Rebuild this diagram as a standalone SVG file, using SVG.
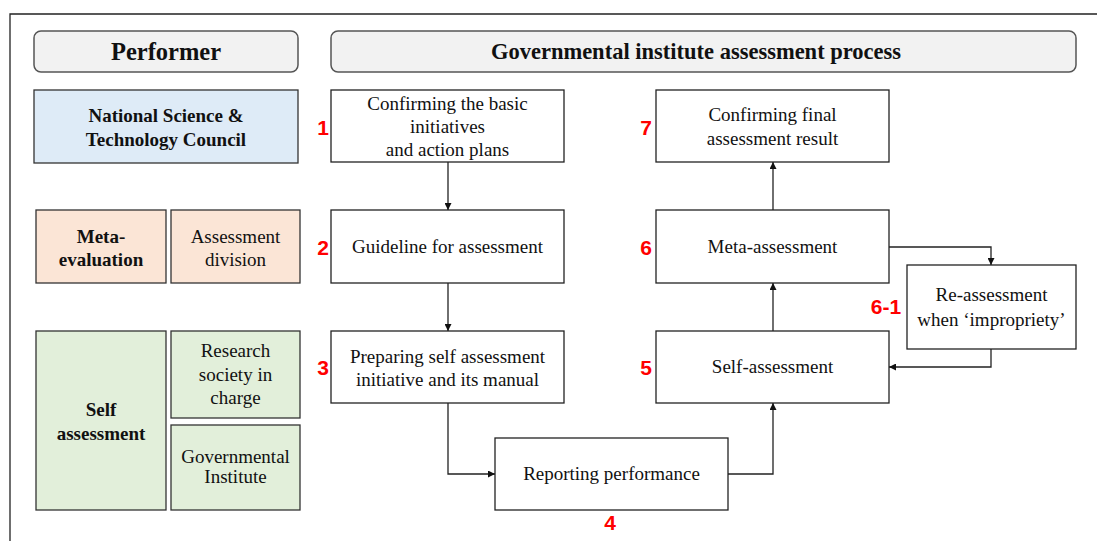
<svg xmlns="http://www.w3.org/2000/svg" width="1097" height="541" viewBox="0 0 1097 541">
<style>
.t{font-family:"Liberation Serif","Times New Roman","DejaVu Serif",serif;font-size:19px;fill:#111;text-anchor:middle}
.b{font-weight:bold}
.h{font-family:"Liberation Serif","Times New Roman","DejaVu Serif",serif;font-weight:bold;fill:#111;text-anchor:middle}
.n{font-family:"Liberation Sans",Arial,sans-serif;font-weight:bold;font-size:21px;fill:#ff0000;text-anchor:middle}
.box{fill:#fff;stroke:#222;stroke-width:1.3}
.hdr{fill:#f2f2f2;stroke:#555;stroke-width:1.5}
.blue{fill:#deebf7;stroke:#333;stroke-width:1.3}
.peach{fill:#fbe5d6;stroke:#333;stroke-width:1.3}
.green{fill:#e2efda;stroke:#333;stroke-width:1.3}
.c{fill:none;stroke:#222;stroke-width:1.3;marker-end:url(#ah)}
</style>
<defs>
<marker id="ah" viewBox="0 0 10 10" refX="10" refY="5" markerWidth="7" markerHeight="7" markerUnits="userSpaceOnUse" orient="auto">
<path d="M0,0 L10,5 L0,10 z" fill="#111"/>
</marker>
</defs>
<rect width="1097" height="541" fill="#fff"/>
<path d="M10,541 V14 H1097" fill="none" stroke="#222" stroke-width="1.3"/>

<g id="performer-header">
<rect class="hdr" x="34" y="31" width="264" height="41" rx="7"/>
<text class="h" x="166" y="60" font-size="24.5">Performer</text>
</g>
<g id="process-header">
<rect class="hdr" x="331" y="31" width="745" height="41" rx="7"/>
<text class="h" x="696" y="59" font-size="22.5">Governmental institute assessment process</text>
</g>

<g id="nstc">
<rect class="blue" x="34" y="90" width="264" height="73"/>
<text class="t b" x="166" y="122">National Science &amp;</text>
<text class="t b" x="166" y="146">Technology Council</text>
</g>
<g id="meta-evaluation">
<rect class="peach" x="36" y="210" width="130" height="73"/>
<text class="t b" x="101" y="243">Meta-</text>
<text class="t b" x="101" y="266">evaluation</text>
</g>
<g id="assessment-division">
<rect class="peach" x="171" y="210" width="129" height="73"/>
<text class="t" x="235.5" y="243">Assessment</text>
<text class="t" x="235.5" y="266">division</text>
</g>
<g id="self-assessment-performer">
<rect class="green" x="36" y="331" width="130" height="179"/>
<text class="t b" x="101" y="416">Self</text>
<text class="t b" x="101" y="440">assessment</text>
</g>
<g id="research-society">
<rect class="green" x="171" y="331" width="129" height="87"/>
<text class="t" x="235.5" y="357">Research</text>
<text class="t" x="235.5" y="381">society in</text>
<text class="t" x="235.5" y="404">charge</text>
</g>
<g id="governmental-institute">
<rect class="green" x="171" y="425" width="129" height="85"/>
<text class="t" x="235.5" y="463" font-size="16">Governmental</text>
<text class="t" x="235.5" y="483" font-size="16">Institute</text>
</g>

<g id="step1">
<rect class="box" x="331" y="90" width="233" height="72"/>
<text class="t" x="447.5" y="110">Confirming the basic</text>
<text class="t" x="447.5" y="133">initiatives</text>
<text class="t" x="447.5" y="156">and action plans</text>
<text class="n" x="323" y="135">1</text>
</g>
<g id="step2">
<rect class="box" x="331" y="210" width="233" height="73"/>
<text class="t" x="447.5" y="253">Guideline for assessment</text>
<text class="n" x="323" y="255">2</text>
</g>
<g id="step3">
<rect class="box" x="331" y="331" width="233" height="72"/>
<text class="t" x="447.5" y="363">Preparing self assessment</text>
<text class="t" x="447.5" y="386">initiative and its manual</text>
<text class="n" x="323" y="375">3</text>
</g>
<g id="step4">
<rect class="box" x="495" y="438" width="233" height="72"/>
<text class="t" x="611.5" y="480">Reporting performance</text>
<text class="n" x="610" y="530">4</text>
</g>
<g id="step5">
<rect class="box" x="656" y="331" width="233" height="72"/>
<text class="t" x="772.5" y="373">Self-assessment</text>
<text class="n" x="646" y="375">5</text>
</g>
<g id="step6">
<rect class="box" x="656" y="210" width="233" height="73"/>
<text class="t" x="772.5" y="253">Meta-assessment</text>
<text class="n" x="646" y="255">6</text>
</g>
<g id="step6-1">
<rect class="box" x="907" y="265" width="169" height="84"/>
<text class="t" x="991.5" y="301">Re-assessment</text>
<text class="t" x="991.5" y="326">when ‘impropriety’</text>
<text class="n" x="886" y="314">6-1</text>
</g>
<g id="step7">
<rect class="box" x="656" y="90" width="233" height="72"/>
<text class="t" x="772.5" y="121">Confirming final</text>
<text class="t" x="772.5" y="145">assessment result</text>
<text class="n" x="646" y="135">7</text>
</g>

<g id="connectors">
<path class="c" d="M448,162 V210"/>
<path class="c" d="M448,283 V331"/>
<path class="c" d="M448,403 V474 H495"/>
<path class="c" d="M728,474 H773 V403"/>
<path class="c" d="M773,331 V283"/>
<path class="c" d="M773,210 V162"/>
<path class="c" d="M889,247 H991 V265"/>
<path class="c" d="M991,349 V367 H889"/>
</g>
</svg>
